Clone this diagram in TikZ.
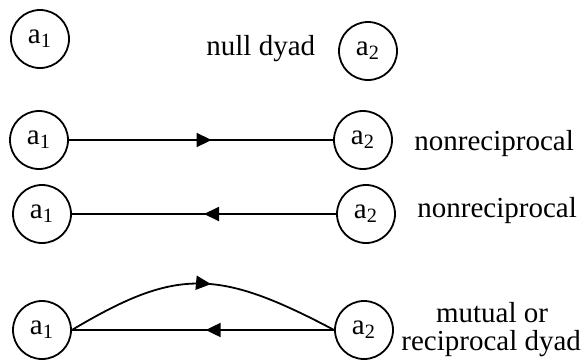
\documentclass[tikz,border=0pt]{standalone}
\usepackage{fontspec}
\setmainfont{Liberation Serif}
\usetikzlibrary{arrows.meta,decorations.markings}
\begin{document}
\begin{tikzpicture}[x=0.5pt,y=-0.5pt,
  actor/.style={draw,circle,line width=0.9pt,minimum size=29pt,inner sep=0pt,font=\fontsize{14.5}{17}\selectfont},
  lbl/.style={inner sep=0pt,font=\fontsize{14.5}{17}\selectfont},
  conn/.style={line width=0.9pt},
  midarrow/.style={postaction={decorate},decoration={markings,
     mark=at position #1 with {\arrow{Triangle[length=7.5pt,width=7pt]}}}}]
\useasboundingbox (0,0) rectangle (584,360);
% row 1
\node[actor] (r1a) at (40,39) {a\textsubscript{1}};
\node[actor] (r1b) at (368,51) {a\textsubscript{2}};
\node[lbl,anchor=base west] (l1) at (206,55) {null dyad};
% row 2
\node[actor] (r2a) at (39,140) {a\textsubscript{1}};
\node[actor] (r2b) at (363,140) {a\textsubscript{2}};
\node[lbl,anchor=base west] (l2) at (414,150) {nonreciprocal};
\draw[conn,midarrow=0.54] (r2a) -- (r2b);
% row 3
\node[actor] (r3a) at (42,214) {a\textsubscript{1}};
\node[actor] (r3b) at (366,214) {a\textsubscript{2}};
\node[lbl,anchor=base west] (l3) at (417,217) {nonreciprocal};
\draw[conn,midarrow=0.5] (r3b) -- (r3a);
% row 4
\node[actor] (r4a) at (42,330) {a\textsubscript{1}};
\node[actor] (r4b) at (364,330) {a\textsubscript{2}};
\node[lbl,anchor=base] (l4a) at (492,322) {mutual or};
\node[lbl,anchor=base west] (l4b) at (401,350) {reciprocal dyad};
\draw[conn,midarrow=0.49] (r4b) -- (r4a);
\draw[conn,midarrow=0.53] (r4a.east) .. controls (176,268) and (217,268) .. (r4b.west);
\end{tikzpicture}
\end{document}
